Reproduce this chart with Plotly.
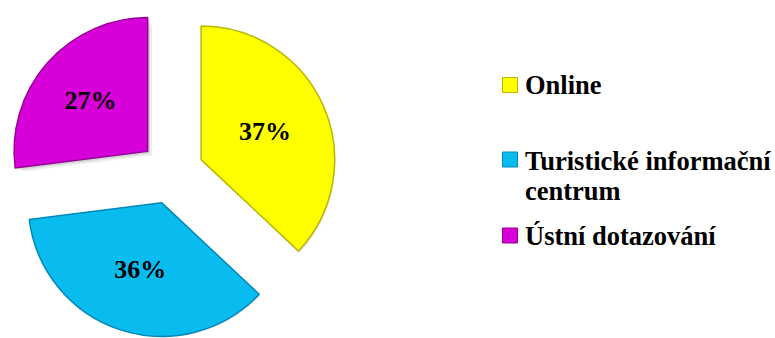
import plotly.graph_objects as go

# Survey: where respondents got their information
categories = ["Online", "Turistické informační centrum", "Ústní dotazování"]
legend_lines = [["Online"], ["Turistické informační", "centrum"], ["Ústní dotazování"]]
shares = [37, 36, 27]
colors = ["#FFFF00", "#08BCF0", "#D800D8"]
edge_colors = ["#B8B800", "#0088B8", "#9A009A"]

W, H = 775, 338
PULL = 0.24
FONT = "Liberation Serif"

# pie placement (domain box) as paper fractions
dom_x = [5.7 / W, 337.7 / W]
dom_y = [0.0, 0.98]

fig = go.Figure()

# soft drop shadow: same pie, nudged right/down, drawn first
for dx, dy, alpha in [(4, 3.5, 0.07), (2, 2, 0.10)]:
    fig.add_trace(go.Pie(
        values=shares, labels=categories, sort=False, direction="clockwise",
        pull=PULL, domain=dict(x=[dom_x[0] + dx / W, dom_x[1] + dx / W],
                               y=[dom_y[0], dom_y[1] - 2 * dy / H]),
        marker=dict(colors=[f"rgba(0,0,0,{alpha})"] * 3, line=dict(width=0)),
        textinfo="none", hoverinfo="skip", showlegend=False,
    ))

fig.add_trace(go.Pie(
    values=shares, labels=categories, sort=False, direction="clockwise",
    pull=PULL, domain=dict(x=dom_x, y=dom_y),
    marker=dict(colors=colors, line=dict(color=edge_colors, width=1.5)),
    textinfo="percent", texttemplate="<b>%{percent:.0%}</b>",
    textposition="inside", insidetextorientation="horizontal",
    textfont=dict(family=FONT, size=26, color="black"),
    hoverinfo="label+percent", showlegend=False,
))

# legend: square swatches + bold labels
shapes = []
annotations = []
swatch_centers = [85, 159.5, 235.5]
text_centers = [85, 161, 236]
line_pitch = 30
sw = 7.5
for i, lines in enumerate(legend_lines):
    cy = swatch_centers[i]
    shapes.append(dict(
        type="rect", xref="paper", yref="paper",
        x0=(510 - sw) / W, x1=(510 + sw) / W,
        y0=1 - (cy + sw) / H, y1=1 - (cy - sw) / H,
        fillcolor=colors[i], line=dict(color=edge_colors[i], width=1),
    ))
    for j, line in enumerate(lines):
        ty = text_centers[i] + j * line_pitch
        annotations.append(dict(
            text=f"<b>{line}</b>", xref="paper", yref="paper",
            x=523 / W, y=1 - ty / H, xanchor="left", yanchor="middle",
            showarrow=False,
            font=dict(family=FONT, size=26.5, color="black"),
        ))

fig.update_layout(
    width=W, height=H,
    margin=dict(l=0, r=0, t=0, b=0),
    font=dict(family=FONT, color="black"),
    paper_bgcolor="white", plot_bgcolor="white",
    showlegend=False,
    shapes=shapes, annotations=annotations,
)

fig.write_html("out.html")
